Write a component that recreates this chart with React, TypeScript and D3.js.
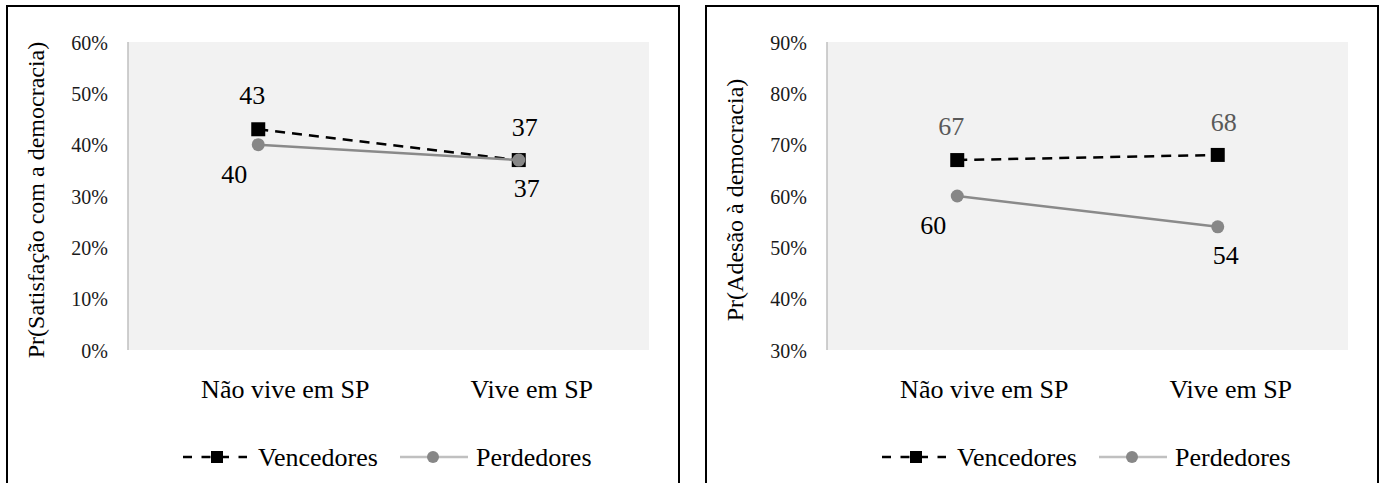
import React from "react";
import * as d3 from "d3";

// categories and values (percent)
const categories = ["Não vive em SP", "Vive em SP"];
const seriesNames = ["Vencedores", "Perdedores"];

const satisfacaoVencedores = [43, 37];
const satisfacaoPerdedores = [40, 37];
const satisfacaoTicks = [0, 10, 20, 30, 40, 50, 60];

const adesaoVencedores = [67, 68];
const adesaoPerdedores = [60, 54];
const adesaoTicks = [30, 40, 50, 60, 70, 80, 90];

const FONT = "'Liberation Serif', Tinos, 'Times New Roman', serif";
const W = 1380;
const H = 483;

// layout (relative to a panel's left border)
const plotLeft = 121;
const plotW = 521;
const plotTop = 42;
const plotBottom = 350;
const catLabelShift = [27, 13];
// data label offsets [series][category] -> [dx, dy]
const labelShift = [
  [[-6, -31], [6, -30]],
  [[-24, 32], [8, 31]],
];

const txt = (size: number) => ({ fontFamily: FONT, fontSize: `${size}px` });

type PanelProps = {
  x0: number;
  title: string;
  ticks: number[];
  venc: number[];
  perd: number[];
  vencLabelColor: string;
};

function Panel({ x0, title, ticks, venc, perd, vencLabelColor }: PanelProps) {
  const left = x0 + plotLeft;
  const x = d3.scaleBand<string>().domain(categories).range([left, left + plotW]);
  const y = d3
    .scaleLinear()
    .domain([ticks[0], ticks[ticks.length - 1]])
    .range([plotBottom, plotTop]);
  const cx = (c: string) => (x(c) as number) + x.bandwidth() / 2;

  const line = d3
    .line<number>()
    .x((_, i) => cx(categories[i]))
    .y((d) => y(d));

  const series = [
    { name: seriesNames[0], values: venc, labelColor: vencLabelColor },
    { name: seriesNames[1], values: perd, labelColor: "#000" },
  ];

  return (
    <g>
      <rect x={x0} y={6} width={672} height={500} fill="#fff" stroke="#000" strokeWidth={2} />
      <rect x={left} y={plotTop} width={plotW} height={plotBottom - plotTop} fill="#f2f2f2" />
      <line x1={left} x2={left} y1={plotTop} y2={plotBottom} stroke="#bfbfbf" strokeWidth={1.5} />

      {ticks.map((t) => (
        <text
          key={t}
          x={left - 20}
          y={y(t) + 3}
          textAnchor="end"
          dominantBaseline="middle"
          style={txt(20)}
          fill="#1a1a1a"
        >
          {`${t}%`}
        </text>
      ))}

      <text
        transform={`translate(${left - 90},${(plotTop + plotBottom) / 2 + 4}) rotate(-90)`}
        textAnchor="middle"
        dominantBaseline="middle"
        style={txt(24)}
        fill="#000"
      >
        {title}
      </text>

      {categories.map((c, i) => (
        <text key={c} x={cx(c) + catLabelShift[i]} y={398} textAnchor="middle" style={txt(26)} fill="#000">
          {c}
        </text>
      ))}

      <path d={line(venc) || ""} fill="none" stroke="#000" strokeWidth={2.5} strokeDasharray="10,7" />
      {venc.map((v, i) => (
        <rect key={i} x={cx(categories[i]) - 7} y={y(v) - 7} width={14} height={14} fill="#000" />
      ))}
      <path d={line(perd) || ""} fill="none" stroke="#8a8a8a" strokeWidth={2.5} />
      {perd.map((v, i) => (
        <circle key={i} cx={cx(categories[i])} cy={y(v)} r={6.5} fill="#878787" />
      ))}

      {series.map((s, si) =>
        s.values.map((v, i) => (
          <text
            key={`${si}-${i}`}
            x={cx(categories[i]) + labelShift[si][i][0]}
            y={y(v) + labelShift[si][i][1]}
            textAnchor="middle"
            dominantBaseline="middle"
            style={txt(26)}
            fill={s.labelColor}
          >
            {v}
          </text>
        ))
      )}

      {/* legend */}
      <line x1={x0 + 176} x2={x0 + 240} y1={457} y2={457} stroke="#000" strokeWidth={2.5} strokeDasharray="9,9.5" />
      <rect x={x0 + 204} y={451} width={12} height={12} fill="#000" />
      <text x={x0 + 251} y={466} style={txt(26)} fill="#000">
        {seriesNames[0]}
      </text>
      <line x1={x0 + 393} x2={x0 + 461} y1={457} y2={457} stroke="#c0c0c0" strokeWidth={2.5} />
      <circle cx={x0 + 426} cy={457} r={6} fill="#878787" />
      <text x={x0 + 469} y={466} style={txt(26)} fill="#000">
        {seriesNames[1]}
      </text>
    </g>
  );
}

export default function App() {
  return (
    <svg width={W} height={H} style={{ position: "absolute", left: 0, top: 0, background: "#fff" }}>
      <Panel
        x0={7}
        title="Pr(Satisfação com a democracia)"
        ticks={satisfacaoTicks}
        venc={satisfacaoVencedores}
        perd={satisfacaoPerdedores}
        vencLabelColor="#000"
      />
      <Panel
        x0={706}
        title="Pr(Adesão à democracia)"
        ticks={adesaoTicks}
        venc={adesaoVencedores}
        perd={adesaoPerdedores}
        vencLabelColor="#595959"
      />
    </svg>
  );
}
